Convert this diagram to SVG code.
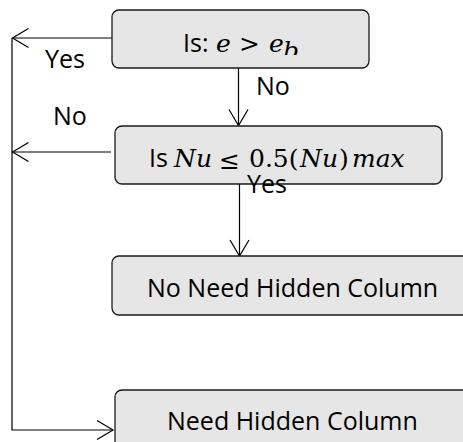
<svg xmlns="http://www.w3.org/2000/svg" width="463" height="442" viewBox="0 0 463 442">
<style>
.box{fill:#e6e6e6;stroke:#1a1a1a;stroke-width:1.3}
.ln{fill:none;stroke:#000;stroke-width:1.2}
.t{font-family:"Open Sans","Liberation Sans",sans-serif;font-size:25px;fill:#000}
.m{font-family:"DejaVu Serif","Liberation Serif",serif;font-size:25px;fill:#000}
.i{font-style:italic}
</style>
<defs>
<marker id="ah" markerUnits="userSpaceOnUse" markerWidth="24" markerHeight="24" viewBox="-20 -12 24 24" refX="0" refY="0" orient="auto" overflow="visible">
<path d="M-16,-9.5 L0,0 L-16,9.5" fill="none" stroke="#000" stroke-width="1.2"/>
</marker>
<clipPath id="c1"><rect x="112" y="10" width="257" height="45"/></clipPath>
</defs>
<g id="connectors">
<path class="ln" d="M112,38 H12.5" marker-end="url(#ah)"/>
<path class="ln" d="M111,152 H12.5" marker-end="url(#ah)"/>
<path class="ln" d="M12,38 V430 H113" marker-end="url(#ah)"/>
<path class="ln" d="M238.5,68 V125.5" marker-end="url(#ah)"/>
<path class="ln" d="M239.5,184 V256" marker-end="url(#ah)"/>
</g>
<g id="node-q1">
<rect class="box" x="112" y="10" width="257" height="58" rx="7"/>
<g clip-path="url(#c1)">
<text class="t" x="183" y="52">Is:</text>
<text class="m i" x="216" y="52">e</text>
<text class="m" x="239" y="52">&gt;</text>
<text class="m i" x="269" y="52">e</text>
<text class="m i" x="283" y="59" font-size="19">b</text>
</g>
</g>
<g id="node-q2">
<rect class="box" x="115" y="126" width="327" height="58" rx="7"/>
<text class="t" x="149" y="167">Is</text>
<text class="m i" x="174" y="167">Nu</text>
<text class="m" x="219" y="169" font-size="28">≤</text>
<text class="m" x="249" y="167">0.5(</text>
<text class="m i" x="300" y="167">Nu</text>
<text class="m" x="339" y="167">)</text>
<text class="m i" x="352" y="167">max</text>
</g>
<g id="node-no-need">
<rect class="box" x="112" y="256" width="362" height="59" rx="7"/>
<text class="t" x="147" y="297">No Need Hidden Column</text>
</g>
<g id="node-need">
<rect class="box" x="115" y="390" width="358" height="70" rx="7"/>
<text class="t" x="167" y="430">Need Hidden Column</text>
</g>
<g id="labels">
<text class="t" x="45" y="68">Yes</text>
<text class="t" x="256" y="95">No</text>
<text class="t" x="53" y="125">No</text>
<text class="t" x="247" y="193">Yes</text>
</g>
</svg>
